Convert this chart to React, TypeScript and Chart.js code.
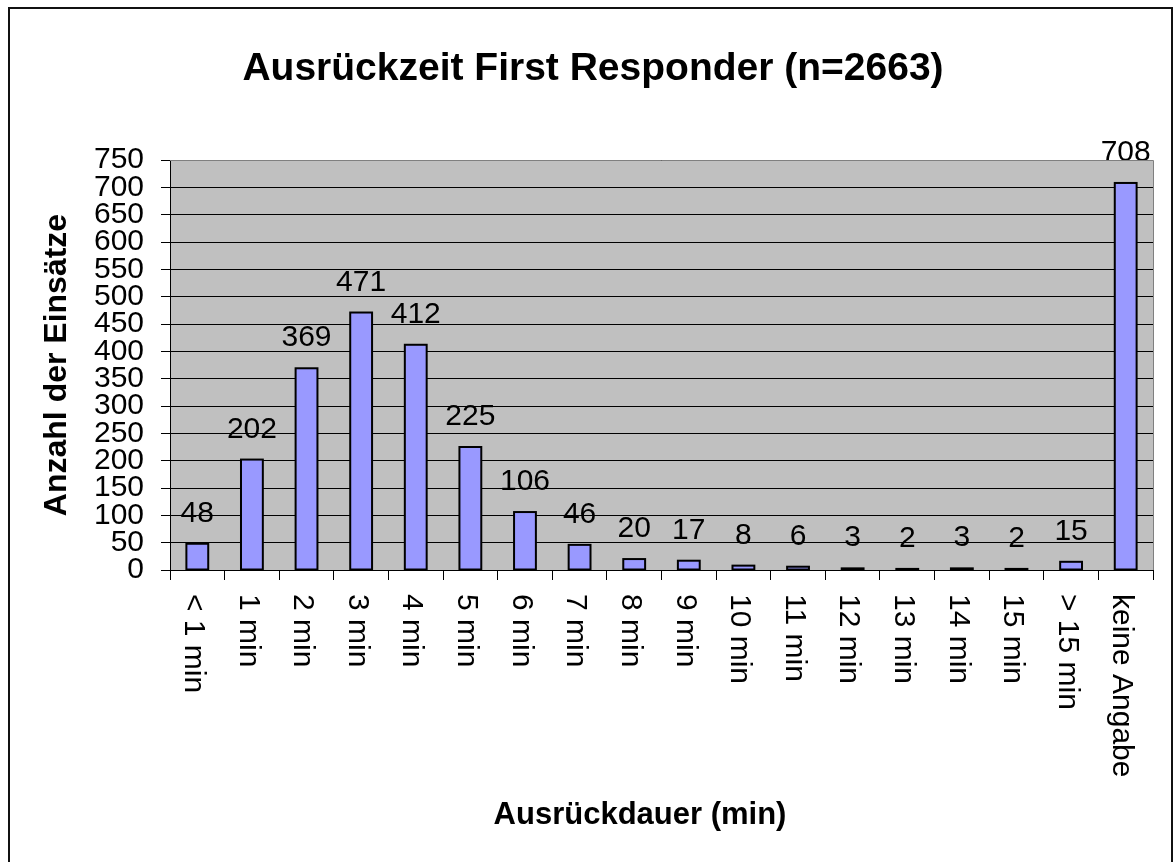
import React, { useEffect, useRef } from 'react';
import { Chart, registerables } from 'chart.js';

Chart.register(...registerables);

// ---- data ----
const categories: string[] = [
  '< 1 min', '1 min', '2 min', '3 min', '4 min', '5 min', '6 min', '7 min', '8 min',
  '9 min', '10 min', '11 min', '12 min', '13 min', '14 min', '15 min', '> 15 min', 'keine Angabe',
];
const counts: number[] = [48, 202, 369, 471, 412, 225, 106, 46, 20, 17, 8, 6, 3, 2, 3, 2, 15, 708];
const yMin = 0;
const yMax = 750;
const yStep = 50;
const chartTitle = 'Ausrückzeit First Responder (n=2663)';
const yTitle = 'Anzahl der Einsätze';
const xTitle = 'Ausrückdauer (min)';

const FONT = "'Liberation Sans', Arial, Helvetica, sans-serif";

export default function App() {
  const ref = useRef<HTMLCanvasElement>(null);

  useEffect(() => {
    const canvas = ref.current!;

    const decor = {
      id: 'decor',
      beforeDraw(chart: any) {
        const { ctx, chartArea: a } = chart;
        ctx.save();
        ctx.fillStyle = '#ffffff';
        ctx.fillRect(0, 0, chart.width, chart.height);
        ctx.fillStyle = '#C0C0C0';
        ctx.fillRect(a.left, a.top, a.right - a.left, a.bottom - a.top);
        ctx.restore();
      },
      afterDatasetsDraw(chart: any) {
        const { ctx } = chart;
        const meta = chart.getDatasetMeta(0);
        ctx.save();
        // bar outlines (Excel style, stroke centred on the bar edge)
        ctx.strokeStyle = '#000';
        ctx.lineWidth = 2;
        meta.data.forEach((el: any) => {
          const p = el.getProps(['x', 'y', 'base', 'width'], true);
          ctx.strokeRect(p.x - p.width / 2, p.y, p.width, p.base - p.y);
        });
        // value labels
        ctx.fillStyle = '#000';
        ctx.font = `30px ${FONT}`;
        ctx.textAlign = 'center';
        ctx.textBaseline = 'alphabetic';
        meta.data.forEach((el: any, i: number) => {
          ctx.fillText(String(counts[i]), el.x, el.y - 22);
        });
        ctx.restore();
      },
      afterDraw(chart: any) {
        const { ctx, chartArea: a } = chart;
        const xs = chart.scales.x;
        ctx.save();
        // plot area border (top + right)
        ctx.strokeStyle = '#808080';
        ctx.lineWidth = 1;
        ctx.beginPath();
        ctx.moveTo(a.left, Math.round(a.top) + 0.5);
        ctx.lineTo(Math.round(a.right) + 0.5, Math.round(a.top) + 0.5);
        ctx.lineTo(Math.round(a.right) + 0.5, a.bottom);
        ctx.stroke();

        // x category labels, rotated clockwise
        ctx.fillStyle = '#000';
        ctx.font = `30px ${FONT}`;
        ctx.textAlign = 'left';
        ctx.textBaseline = 'middle';
        categories.forEach((c, i) => {
          const x = xs.getPixelForTick(i);
          ctx.save();
          ctx.translate(x - 4, 594);
          ctx.rotate(Math.PI / 2);
          ctx.fillText(c, 0, 0);
          ctx.restore();
        });

        // main title
        ctx.font = `bold 39px ${FONT}`;
        ctx.textAlign = 'center';
        ctx.textBaseline = 'alphabetic';
        ctx.fillText(chartTitle, 593, 80);

        // x axis title
        ctx.font = `bold 31px ${FONT}`;
        ctx.fillText(xTitle, 640, 824);

        // outer frame
        ctx.strokeStyle = '#111';
        ctx.lineWidth = 2;
        ctx.strokeRect(9, 8, 1163, 900);
        ctx.restore();
      },
    };

    const chart = new Chart(canvas, {
      type: 'bar',
      data: {
        labels: categories,
        datasets: [
          {
            data: counts,
            backgroundColor: '#9999FF',
            borderWidth: 0,
            barPercentage: 0.4,
            categoryPercentage: 1,
            inflateAmount: 0,
          },
        ],
      },
      options: {
        responsive: false,
        animation: false,
        devicePixelRatio: 1,
        layout: { padding: { top: 160, right: 20, bottom: 0, left: 0 } },
        plugins: {
          legend: { display: false },
          title: { display: false },
          tooltip: { enabled: false },
        },
        scales: {
          x: {
            type: 'category',
            offset: true,
            grid: {
              offset: true,
              drawOnChartArea: false,
              drawTicks: true,
              tickLength: 10,
              color: '#000',
              lineWidth: 1,
            },
            border: { display: true, color: '#000', width: 1 },
            ticks: { display: false },
            afterFit: (s: any) => {
              s.height = 292;
            },
          },
          y: {
            min: yMin,
            max: yMax,
            grid: {
              color: '#000',
              lineWidth: 1,
              drawTicks: true,
              tickLength: 9,
            },
            border: { display: true, color: '#000', width: 1 },
            ticks: {
              stepSize: yStep,
              padding: 17,
              color: '#000',
              font: { family: FONT, size: 30 },
              autoSkip: false,
            },
            title: {
              display: true,
              text: yTitle,
              color: '#000',
              font: { family: FONT, size: 32, weight: 'bold' },
              padding: { top: 38, bottom: 0 },
            },
            afterFit: (s: any) => {
              s.width = 170;
            },
          },
        },
      },
      plugins: [decor],
    } as any);

    return () => chart.destroy();
  }, []);

  return (
    <div style={{ position: 'absolute', left: 0, top: 0, width: 1173, height: 862 }}>
      <canvas ref={ref} width={1173} height={862} style={{ display: 'block' }} />
    </div>
  );
}
